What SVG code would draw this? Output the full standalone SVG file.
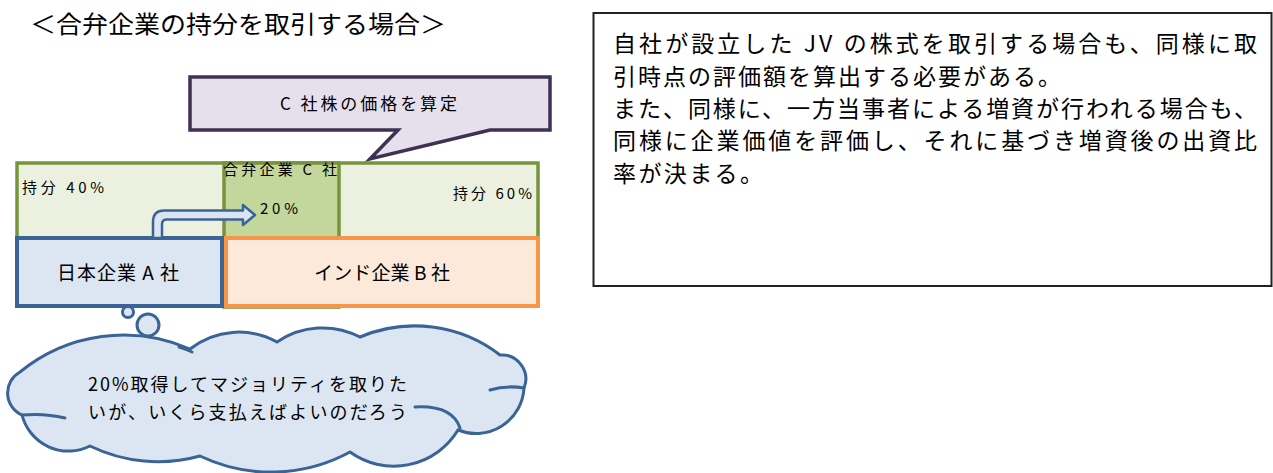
<svg xmlns="http://www.w3.org/2000/svg" width="1273" height="473" viewBox="0 0 1273 473">
<style>
  text { font-family: "Noto Sans CJK JP", "Noto Sans", sans-serif; fill: #000; }
  .t15 { font-size: 15px; }
  .t17 { font-size: 17px; }
  .t18 { font-size: 18px; }
  .t19 { font-size: 19px; }
  .t23 { font-size: 23px; }
  .green { fill: #ebf1de; stroke: #77933c; stroke-width: 3.5; }
  .green2 { fill: #c3d69b; stroke: #77933c; stroke-width: 3.5; }
  .blue { fill: #dce6f2; stroke: #3b6496; stroke-width: 4; }
  .orange { fill: #fde9d9; stroke: #f79646; stroke-width: 4; }
  .cloud { fill: #dce6f2; stroke: #3b6496; stroke-width: 3; }
  .cloudline { fill: none; stroke: #3b6496; stroke-width: 3; stroke-linecap: round; }
</style>

<g id="title">
  <text x="30" y="33" style="font-size:24px" textLength="416" lengthAdjust="spacingAndGlyphs">＜合弁企業の持分を取引する場合＞</text>
</g>

<g id="callout">
  <path d="M190,77 H550 V130 H490 L370,159 L398,130 H190 Z" fill="#e5e0ec" stroke="#3f3151" stroke-width="3.5" stroke-linejoin="miter"/>
  <text class="t17" x="280" y="110" textLength="177" lengthAdjust="spacing">C 社株の価格を算定</text>
</g>

<g id="jv-c">
  <rect class="green" x="17" y="163" width="521" height="135"/>
  <rect class="green2" x="224" y="163" width="115" height="144"/>
  <text class="t15" x="22" y="193" textLength="82" lengthAdjust="spacing">持分 40%</text>
  <text class="t15" x="453" y="199" textLength="79" lengthAdjust="spacing">持分 60%</text>
  <text class="t15" x="260" y="214" textLength="38" lengthAdjust="spacing">20%</text>
</g>

<g id="company-a">
  <rect class="blue" x="17" y="238" width="205" height="68"/>
  <text class="t19" x="57" y="280" textLength="122" lengthAdjust="spacing">日本企業 A 社</text>
</g>

<g id="company-b">
  <rect class="orange" x="226" y="238" width="312" height="68"/>
  <text class="t19" x="314" y="280" textLength="136" lengthAdjust="spacing">インド企業 B 社</text>
</g>

<g id="jv-label">
  <text class="t15" x="223" y="175" textLength="114" lengthAdjust="spacing">合弁企業 C 社</text>
</g>

<g id="connectors">
  <path d="M153,238 V222 Q153,210.5 164,210.5 H243 V205 L255,215 L243,225 V219.5 H167 Q162,219.5 162,224 V238 Z" fill="#dbe5f1" stroke="#3b6496" stroke-width="2.5" stroke-linejoin="round"/>
</g>

<g id="thought-cloud">
  <circle class="cloud" cx="128" cy="312" r="5.5"/>
  <circle class="cloud" cx="148" cy="325" r="11"/>
  <path class="cloud" d="M22,415 A24,24 0 0 1 20,372 A164,164 0 0 1 190,349 A79,79 0 0 1 277,342 A81,81 0 0 1 360,337 A140,140 0 0 1 500,355 A24,24 0 0 1 524,388 A48,48 0 0 1 458,430 A75,75 0 0 1 350,452 A165,165 0 0 1 200,456 A156,156 0 0 1 90,446 A48,48 0 0 1 22,415 Z"/>
  <path class="cloudline" d="M22,415 Q45,413 65,418"/>
  <path class="cloudline" d="M179,347 Q186,349 192,352"/>
  <path class="cloudline" d="M524,388 Q506,385 490,390"/>
  <path class="cloudline" d="M415,407 Q452,405 460,428"/>
  <text class="t18" x="88" y="391" textLength="319" lengthAdjust="spacing">20%取得してマジョリティを取りた</text>
  <text class="t18" x="88" y="419" textLength="319" lengthAdjust="spacing">いが、いくら支払えばよいのだろう</text>
</g>

<g id="note">
  <rect x="593.5" y="13" width="678" height="273" fill="#fff" stroke="#222" stroke-width="2"/>
  <text class="t23" x="613" y="52" textLength="644" lengthAdjust="spacing">自社が設立した JV の株式を取引する場合も、同様に取</text>
  <text class="t23" x="613" y="85" textLength="448" lengthAdjust="spacing">引時点の評価額を算出する必要がある。</text>
  <text class="t23" x="613" y="117" textLength="644" lengthAdjust="spacing">また、同様に、一方当事者による増資が行われる場合も、</text>
  <text class="t23" x="613" y="149" textLength="644" lengthAdjust="spacing">同様に企業価値を評価し、それに基づき増資後の出資比</text>
  <text class="t23" x="613" y="182" textLength="150" lengthAdjust="spacing">率が決まる。</text>
</g>
</svg>
